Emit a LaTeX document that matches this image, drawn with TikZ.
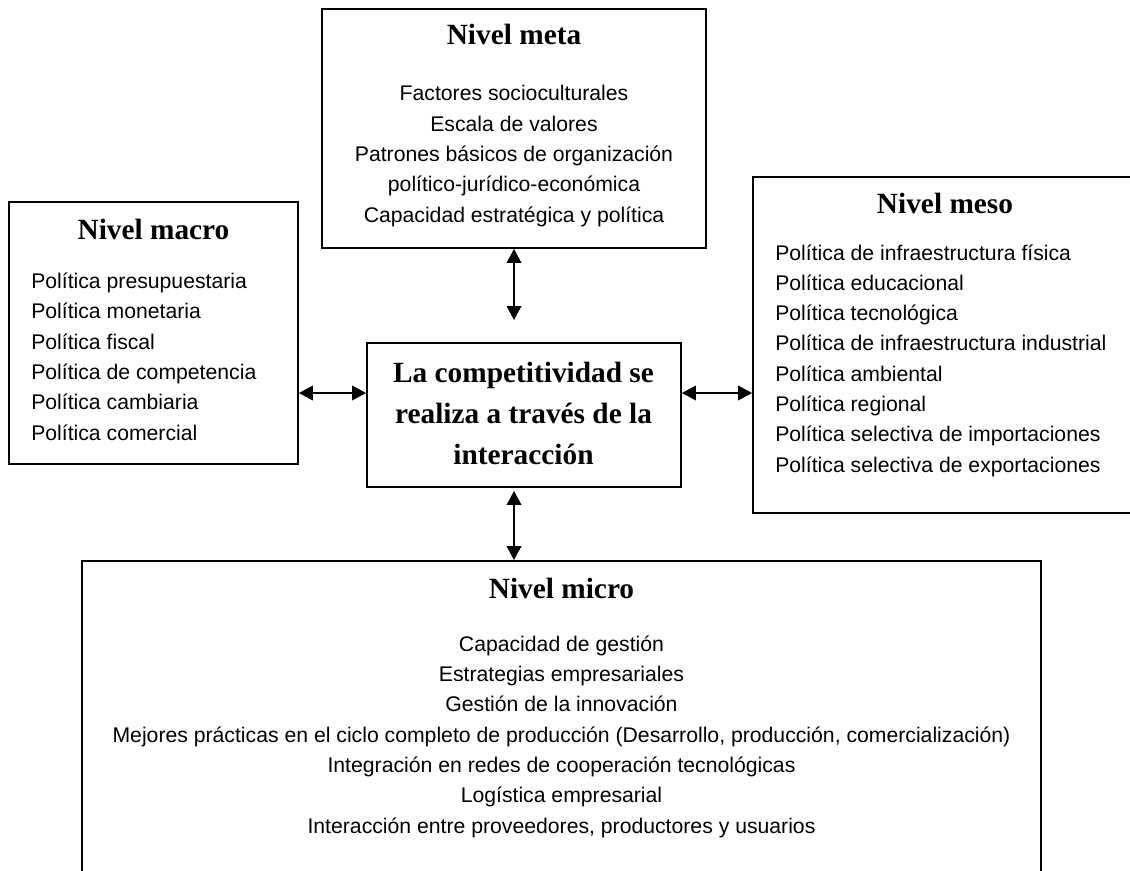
\documentclass[tikz,border=0pt]{standalone}
\usepackage{fontspec}
\setmainfont{Liberation Sans}
\newfontfamily\titlefont{Liberation Serif}
\usepackage{tikz}
\usetikzlibrary{arrows.meta}

\tikzset{
  levelbox/.style={draw, line width=1.4pt, inner sep=0pt},
  leveltitle/.style={font=\titlefont\bfseries\fontsize{22}{26}\selectfont, anchor=base, inner sep=0pt},
  levellist/.style={font=\fontsize{15.9}{22.7}\selectfont, inner sep=0pt},
  linkarrow/.style={{Triangle[length=10.5pt,width=11pt]}-{Triangle[length=10.5pt,width=11pt]}, line width=1.1pt}
}

\begin{document}
\begin{tikzpicture}[x=0.75pt, y=-0.75pt]
        \useasboundingbox (0,0) rectangle (1130,870);

        \node[levelbox, minimum width=288pt, minimum height=179.25pt] (meta) at (514,128.5) {};
        \node[levelbox, minimum width=216.75pt, minimum height=196.5pt] (macro) at (153.5,333) {};
        \node[levelbox, minimum width=288pt, minimum height=252pt] (meso) at (945,345) {};
        \node[levelbox, minimum width=719.25pt, minimum height=243pt] (micro) at (561.5,723) {};
        \node[levelbox, minimum width=235.5pt, minimum height=108pt] (inter) at (524,415) {};

        \node[leveltitle] (metatitle) at (514,45) {Nivel meta};
        \node[leveltitle] (macrotitle) at (153.5,239) {Nivel macro};
        \node[leveltitle] (mesotitle) at (945,213) {Nivel meso};
        \node[leveltitle] (microtitle) at (561.5,598) {Nivel micro};
        \node[leveltitle, align=center, font=\titlefont\bfseries\fontsize{22}{30.75}\selectfont] (intertext) at (523.5,464)
              {La competitividad se\\realiza a través de la\\interacción};

        % the base of a list is the baseline of its last line
        \node[levellist, align=center, anchor=base] (metalist) at (514,222)
              {Factores socioculturales\\Escala de valores\\Patrones básicos de organización\\político-jurídico-económica\\Capacidad estratégica y política};
        \node[levellist, align=left, anchor=base west] (macrolist) at (31,440)
              {Política presupuestaria\\Política monetaria\\Política fiscal\\Política de competencia\\Política cambiaria\\Política comercial};
        \node[levellist, align=left, anchor=base west] (mesolist) at (775,472)
              {Política de infraestructura física\\Política educacional\\Política tecnológica\\Política de infraestructura industrial\\Política ambiental\\Política regional\\Política selectiva de importaciones\\Política selectiva de exportaciones};
        \node[levellist, align=center, anchor=base] (microlist) at (561.5,833)
              {Capacidad de gestión\\Estrategias empresariales\\Gestión de la innovación\\Mejores prácticas en el ciclo completo de producción (Desarrollo, producción, comercialización)\\Integración en redes de cooperación tecnológicas\\Logística empresarial\\Interacción entre proveedores, productores y usuarios};

        \coordinate (metaend) at (514,320);
        \coordinate (linky) at (0,393);

        \draw[linkarrow] (meta.south) -- (metaend);
        \draw[linkarrow, shorten <=2.25pt] (inter.south -| meta.south) -- (micro.north -| meta.south);
        \draw[linkarrow] (macro.east |- linky) -- (inter.west |- linky);
        \draw[linkarrow] (inter.east |- linky) -- (meso.west |- linky);
    \end{tikzpicture}
\end{document}
